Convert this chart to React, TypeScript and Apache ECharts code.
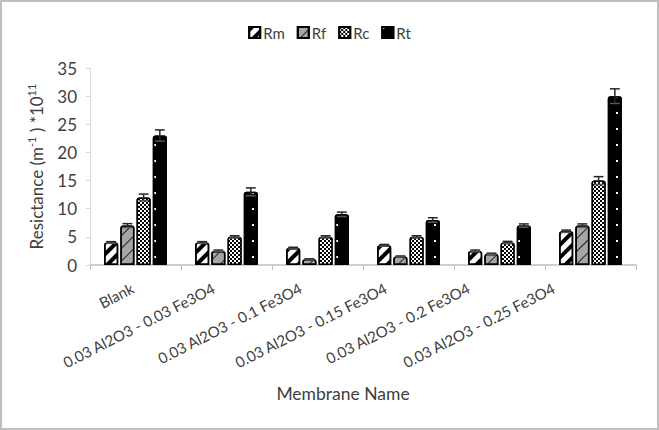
import React, { useEffect, useRef } from "react";
import * as echarts from "echarts";

const categories = [
  "Blank",
  "0.03 Al2O3 - 0.03 Fe3O4",
  "0.03 Al2O3 - 0.1 Fe3O4",
  "0.03 Al2O3 - 0.15 Fe3O4",
  "0.03 Al2O3 - 0.2 Fe3O4",
  "0.03 Al2O3 - 0.25 Fe3O4",
];
const seriesNames = ["Rm", "Rf", "Rc", "Rt"];
const rm = [4, 4, 3, 3.5, 2.5, 6];
const rf = [7, 2.5, 1, 1.5, 2, 7];
const rc = [12, 5, 5, 5, 4, 15];
const rt = [23, 13, 9, 8, 7, 30];
const rmErr = [0.15, 0.15, 0.15, 0.15, 0.15, 0.2];
const rfErr = [0.35, 0.15, 0.1, 0.1, 0.1, 0.3];
const rcErr = [0.6, 0.2, 0.2, 0.2, 0.2, 0.7];
const rtErr = [1.0, 0.7, 0.4, 0.4, 0.3, 1.3];
const yTicks = { min: 0, max: 35, interval: 5 };

// styling: leftward shift (px) of each rotated category label, as in the original layout
const LABEL_SHIFT = [3, 13, 17, 23, 31, 37];
const ROT = 27;
const BARW = 0.155;
const GAP = 0.15;
const FONT = "Lato, 'Open Sans', sans-serif";
const TXT = "#404040";

export default function App() {
  const ref = useRef<HTMLDivElement>(null);
  useEffect(() => {
    if (!ref.current) return;
    const chart = echarts.init(ref.current, undefined, { renderer: "svg" });
    const values = [rm, rf, rc, rt];
    const errs = [rmErr, rfErr, rcErr, rtErr];
    const styles: any[] = [
      {
        color: "#ffffff",
        decal: { symbol: "rect", color: "#000", dashArrayX: [1, 0], dashArrayY: [4, 5], rotation: -Math.PI / 4 },
      },
      {
        color: "#a6a6a6",
        decal: { symbol: "rect", color: "#222", dashArrayX: [1, 0], dashArrayY: [1, 8], rotation: -Math.PI / 4 },
      },
      {
        color: "#000000",
        decal: { symbol: "rect", color: "#fff", symbolSize: 1, dashArrayX: [[2, 2], [0, 2, 2, 0]], dashArrayY: [2, 0] },
      },
      {
        color: "#000000",
        decal: { symbol: "rect", color: "#fff", symbolSize: 1, dashArrayX: [2, 12], dashArrayY: [2, 14] },
      },
    ];
    const barSeries = seriesNames.map((name, s) => ({
      name,
      type: "bar",
      data: values[s],
      barWidth: BARW * 100 + "%",
      barGap: GAP * 100 + "%",
      itemStyle: { ...styles[s], borderColor: "#000", borderWidth: 1.5, borderRadius: [2, 2, 0, 0] },
      z: 2,
    }));
    const errSeries = seriesNames.map((name, s) => ({
      name: "err" + name,
      type: "custom",
      data: values[s].map((v, i) => [i, v, errs[s][i]]),
      encode: { x: 0, y: 1 },
      z: 5,
      silent: true,
      renderItem: (params: any, api: any) => {
        const ci = api.value(0);
        const v = api.value(1);
        const e = api.value(2);
        const c = api.coord([ci, v]);
        const hi = api.coord([ci, v + e]);
        const lo = api.coord([ci, v - e]);
        const band = api.size([1, 0])[0];
        const bw = band * BARW;
        const gap = bw * GAP;
        const x = c[0] - (4 * bw + 3 * gap) / 2 + bw / 2 + s * (bw + gap);
        const cap = bw * 0.35;
        const st = { stroke: "#262626", lineWidth: 1.5 };
        return {
          type: "group",
          children: [
            { type: "line", shape: { x1: x, y1: hi[1], x2: x, y2: lo[1] }, style: st },
            { type: "line", shape: { x1: x - cap, y1: hi[1], x2: x + cap, y2: hi[1] }, style: st },
            { type: "line", shape: { x1: x - cap, y1: lo[1], x2: x + cap, y2: lo[1] }, style: { ...st, stroke: "#555" } },
          ],
        };
      },
    }));
    const rad = (ROT * Math.PI) / 180;
    const rich: any = {};
    LABEL_SHIFT.forEach((d, i) => {
      rich["c" + i] = {
        fontSize: 15,
        color: TXT,
        fontFamily: FONT,
        verticalAlign: "top",
        padding: [0, d * Math.cos(rad), 2 * d * Math.sin(rad), 0],
      };
    });
    chart.setOption({
      animation: false,
      aria: { enabled: false, decal: { show: false } },
      textStyle: { fontFamily: FONT, color: TXT },
      graphic: [
        {
          type: "rect",
          shape: { x: 1, y: 1, width: 657, height: 428 },
          style: { fill: "none", stroke: "#bfbfbf", lineWidth: 2 },
          z: 100,
        },
      ],
      legend: {
        data: seriesNames,
        top: 20,
        left: "center",
        itemWidth: 11,
        itemHeight: 11,
        itemGap: 12,
        icon: "rect",
        textStyle: { fontSize: 15, color: TXT, fontFamily: FONT, padding: [0, 0, 0, -2] },
      },
      grid: { left: 90, right: 23, top: 68, bottom: 165, containLabel: false },
      xAxis: {
        type: "category",
        data: categories,
        axisLine: { lineStyle: { color: "#bfbfbf", width: 1.5 } },
        axisTick: { show: true, length: 5, lineStyle: { color: "#bfbfbf" } },
        axisLabel: {
          rotate: ROT,
          margin: 22,
          fontSize: 15,
          color: TXT,
          fontFamily: FONT,
          interval: 0,
          formatter: (v: string, i: number) => "{c" + i + "|" + v + "}",
          rich,
        },
        name: "Membrane Name",
        nameLocation: "middle",
        nameGap: 119,
        nameTextStyle: { fontSize: 17.5, color: TXT, fontFamily: FONT, padding: [0, 40, 0, 0] },
      },
      yAxis: {
        type: "value",
        min: yTicks.min,
        max: yTicks.max,
        interval: yTicks.interval,
        splitLine: { show: false },
        axisLine: { show: true, lineStyle: { color: "#d9d9d9" } },
        axisTick: { show: true, length: 4, lineStyle: { color: "#d9d9d9" } },
        axisLabel: { fontSize: 17, color: TXT, fontFamily: FONT, margin: 13 },
        name: "Resictance (m{sup|-1} ) *10{sup|11}",
        nameLocation: "middle",
        nameGap: 44,
        nameTextStyle: {
          fontSize: 17,
          color: TXT,
          fontFamily: FONT,
          rich: { sup: { fontSize: 11, color: TXT, fontFamily: FONT, padding: [0, 0, 9, 0] } },
        },
      },
      series: [...barSeries, ...errSeries],
    });
    return () => chart.dispose();
  }, []);
  return (
    <div
      ref={ref}
      style={{ position: "absolute", left: 0, top: 0, width: 659, height: 430, background: "#fff" }}
    />
  );
}
